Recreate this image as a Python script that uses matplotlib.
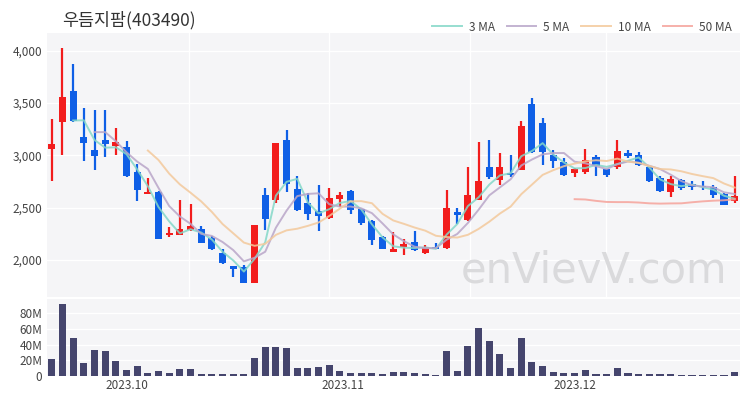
import numpy as np
import pandas as pd
import matplotlib
matplotlib.use("Agg")
import matplotlib.pyplot as plt

plt.rcParams['font.family'] = ['Noto Sans CJK KR', 'DejaVu Sans']

# daily candles (won)
opens = [3060, 3320, 3620, 3180, 3050, 3145, 3090, 3080, 2845, 2630,
         2650, 2240, 2240, 2285, 2295, 2205, 2070, 1940, 1935, 1780,
         2620, 2575, 3145, 2680, 2540, 2470, 2400, 2580, 2660, 2485,
         2375, 2215, 2080, 2120, 2175, 2065, 2125, 2110, 2460, 2380,
         2575, 2890, 2765, 2835, 2860, 3490, 3310, 3000, 2940, 2835,
         2845, 2985, 2865, 2890, 3020, 3005, 2890, 2780, 2645, 2765,
         2730, 2710, 2700, 2630, 2560]
highs = [3350, 4030, 3870, 3450, 3430, 3430, 3260, 3140, 2920, 2780,
         2660, 2310, 2575, 2530, 2320, 2230, 2100, 1945, 1950, 2335,
         2685, 3120, 3240, 2805, 2635, 2715, 2690, 2650, 2665, 2490,
         2380, 2225, 2270, 2195, 2280, 2140, 2160, 2670, 2495, 2890,
         3130, 3145, 3020, 3005, 3330, 3550, 3355, 3050, 2970, 2875,
         3065, 3005, 2870, 3145, 3055, 3030, 2895, 2800, 2800, 2775,
         2755, 2750, 2715, 2635, 2800]
lows = [2750, 3000, 3320, 2950, 2860, 2980, 3000, 2795, 2560, 2630,
        2195, 2220, 2235, 2280, 2160, 2095, 1965, 1840, 1780, 1780,
        2285, 2540, 2650, 2470, 2380, 2280, 2390, 2505, 2440, 2335,
        2140, 2100, 2080, 2045, 2085, 2060, 2100, 2105, 2345, 2375,
        2570, 2770, 2715, 2795, 2860, 3020, 2905, 2875, 2805, 2790,
        2825, 2805, 2790, 2865, 2975, 2900, 2745, 2650, 2600, 2670,
        2670, 2670, 2590, 2525, 2540]
closes = [3110, 3560, 3330, 3115, 2995, 3110, 3125, 2800, 2670, 2645,
          2200, 2260, 2300, 2320, 2165, 2100, 1970, 1915, 1780, 2335,
          2390, 3120, 2730, 2475, 2440, 2420, 2595, 2620, 2475, 2355,
          2190, 2100, 2100, 2150, 2090, 2120, 2105, 2500, 2425, 2620,
          2750, 2790, 2885, 2810, 3280, 3035, 3035, 2950, 2810, 2865,
          2960, 2900, 2810, 3040, 2995, 2905, 2750, 2655, 2770, 2690,
          2700, 2695, 2620, 2525, 2610]
# volume in millions of shares
volumes = [22.2, 91.8, 48.6, 17.0, 33.7, 31.9, 18.7, 7.2, 12.7, 4.2,
           6.3, 4.2, 9.3, 9.3, 2.9, 2.9, 2.5, 2.5, 2.5, 23.0,
           37.0, 36.5, 35.8, 10.6, 10.2, 11.4, 13.6, 5.9, 4.2, 4.0,
           4.0, 2.5, 5.0, 4.5, 3.5, 2.5, 1.5, 31.5, 6.3, 38.3,
           60.6, 44.7, 28.6, 10.2, 47.8, 17.8, 12.7, 5.0, 3.5, 3.5,
           7.2, 3.0, 2.5, 10.2, 3.5, 2.5, 2.5, 2.5, 3.0, 1.5,
           1.5, 1.5, 1.5, 1.5, 5.0]

ma_windows = [3, 5, 10, 50]
ma_colors = ['#84d8c8', '#b9a6c9', '#f3c99c', '#f5a39b']

month_labels = ['2023.10', '2023.11', '2023.12']
month_pos = [7, 27.3, 49]
grid_pos = [12.9, 26.0, 39.2, 51.9]

red = '#f21d1d'
blue = '#0f5fe6'
bg = '#f5f5f7'

opens = np.array(opens)
closes = np.array(closes)
x = np.arange(len(closes))
colors = np.where(closes >= opens, red, blue)

fig = plt.figure(figsize=(7.5, 4), dpi=100)
ax = fig.add_axes([0.0627, 0.2575, 0.924, 0.66])
axv = fig.add_axes([0.0627, 0.06, 0.924, 0.1925])

for a in ax, axv:
    a.set_facecolor(bg)
    for s in a.spines.values():
        s.set_visible(False)
    a.tick_params(length=0, labelsize=8.5, labelcolor='#444444')
    a.set_xlim(-0.45, 64.5)
    a.set_axisbelow(True)

# candles
ax.vlines(x, lows, highs, color=colors, lw=1.6, zorder=2)
body_low = np.minimum(opens, closes)
body_h = np.maximum(np.abs(closes - opens), 14)
ax.bar(x, body_h, bottom=body_low, width=0.66, color=colors, zorder=2)

s = pd.Series(closes, dtype=float)
for w, c in zip(ma_windows, ma_colors):
    ax.plot(x, s.rolling(w).mean(), color=c, lw=1.4, alpha=0.85,
            label=f'{w} MA', zorder=3)

ax.set_ylim(1645, 4170)
ax.set_yticks([2000, 2500, 3000, 3500, 4000])
ax.set_yticklabels([f'{v:,}' for v in [2000, 2500, 3000, 3500, 4000]])
ax.set_xticks(grid_pos)
ax.set_xticklabels([])
ax.grid(True, color='white', lw=1)

ax.text(0.79, 0.10, 'enVievV.com', transform=ax.transAxes, fontsize=30,
        color='#dadadc', ha='center', va='center', family='DejaVu Sans',
        zorder=1)

# volume
axv.bar(x, volumes, width=0.66, color='#45456d')
axv.set_ylim(0, 98)
axv.set_yticks([0, 20, 40, 60, 80])
axv.set_yticklabels(['0', '20M', '40M', '60M', '80M'])
axv.set_xticks(month_pos)
axv.set_xticklabels(month_labels)
axv.tick_params(axis='x', pad=2)
axv.grid(True, axis='y', color='white', lw=1)

fig.text(62 / 750, 1 - 20 / 400, '우듬지팜(403490)', fontsize=12.5,
         color='#333333', ha='left', va='center')

handles, labels = ax.get_legend_handles_labels()
fig.legend(handles, labels, loc='upper right', bbox_to_anchor=(0.99, 0.975),
           ncol=4, frameon=False, fontsize=8.5, handlelength=2.5,
           columnspacing=1.0, handletextpad=0.6, labelcolor='#444444')

fig.savefig('out.png', dpi=100, facecolor='white')
